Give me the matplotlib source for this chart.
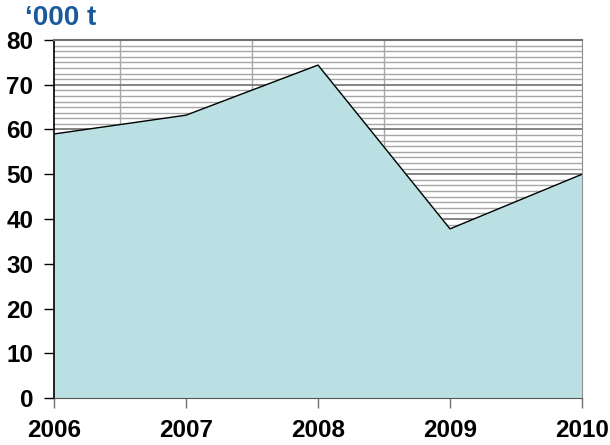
import numpy as np
import matplotlib.pyplot as plt
from matplotlib.ticker import MultipleLocator

# data
years = [2006, 2007, 2008, 2009, 2010]
values = [59.0, 63.2, 74.4, 37.8, 50.0]
y_ticks = [0, 10, 20, 30, 40, 50, 60, 70, 80]

plt.rcParams['font.family'] = ['Liberation Sans', 'DejaVu Sans']

fig = plt.figure(figsize=(6.1, 4.45), dpi=100)
ax = fig.add_axes([54/610, 1 - 398/445, 528/610, 358/445])

ax.set_xlim(years[0], years[-1])
ax.set_ylim(0, 80)

# grid: minor every 1.25, major every 10, verticals every half year
ax.yaxis.set_minor_locator(MultipleLocator(1.25))
ax.xaxis.set_minor_locator(MultipleLocator(0.5))
ax.grid(which='minor', axis='y', color='#a6a6a6', lw=1.0)
ax.grid(which='major', axis='y', color='#707070', lw=1.2)
ax.grid(which='minor', axis='x', color='#a6a6a6', lw=1.0)
ax.set_axisbelow(True)

ax.fill_between(years, values, 0, color='#bbe0e3', zorder=2)
ax.plot(years, values, color='black', lw=1.0, zorder=3)

ax.set_xticks(years)
ax.set_yticks(y_ticks)
ax.tick_params(which='minor', length=0)
ax.tick_params(axis='y', which='major', direction='out', length=7, width=1, color='black', pad=8)
ax.tick_params(axis='x', which='major', direction='out', length=7, width=1, color='#707070', pad=8)
for lab in ax.get_xticklabels() + ax.get_yticklabels():
    lab.set_fontweight('bold')
    lab.set_fontsize(17.5)

ax.spines['left'].set_color('black')
ax.spines['left'].set_linewidth(1.2)
ax.spines['bottom'].set_color('#555555')
ax.spines['top'].set_color('#707070')
ax.spines['top'].set_linewidth(1.5)
ax.spines['right'].set_color('#909090')
for sp in ax.spines.values():
    sp.set_zorder(4)

fig.text(25/610, 1 - 18/445, '\u2018000 t', color='#1b5a9a', fontsize=20,
         fontweight='bold', va='center', ha='left')

fig.savefig('out.png', dpi=100)
